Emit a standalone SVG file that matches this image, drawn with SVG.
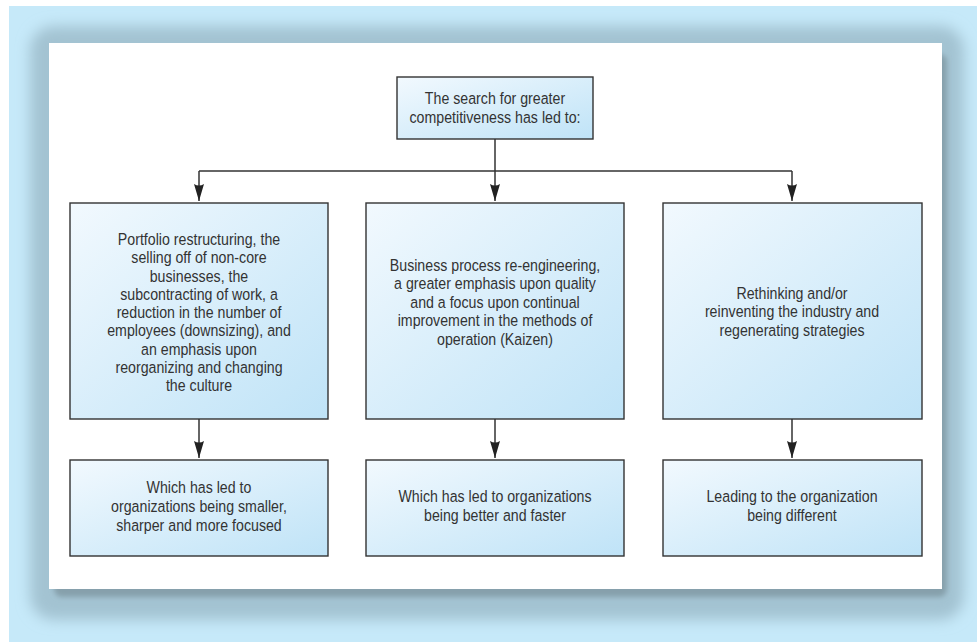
<svg xmlns="http://www.w3.org/2000/svg" width="977" height="642" viewBox="0 0 977 642">
<style>
.box{stroke:#333;stroke-width:1.4;fill:url(#bg)}
.t{font-family:"Liberation Sans",Arial,sans-serif;font-size:16.5px;fill:#333;text-anchor:middle}
.c{stroke:#333;stroke-width:1.5;fill:none}
</style>
<defs>
<linearGradient id="bg" x1="0" y1="0" x2="1" y2="1">
<stop offset="0" stop-color="#f2f9fe"/>
<stop offset="1" stop-color="#bfe3f7"/>
</linearGradient>
<filter id="b1" x="-10%" y="-10%" width="120%" height="120%"><feGaussianBlur stdDeviation="7"/></filter>
<filter id="b2" x="-10%" y="-10%" width="120%" height="120%"><feGaussianBlur stdDeviation="2.5"/></filter>
<marker id="ah" markerUnits="userSpaceOnUse" markerWidth="18" markerHeight="12" refX="17" refY="5" orient="auto" viewBox="0 0 18 10">
<path d="M0,0 Q3,5 0,10 L17,5 Z" fill="#222"/>
</marker>
</defs>
<rect x="9" y="6" width="968" height="636" fill="#c6e9f9"/>
<rect x="30" y="26" width="934" height="594" rx="24" fill="#a3c3d2" filter="url(#b1)"/>
<rect x="54" y="54" width="893" height="543" rx="8" fill="#86a0ac" filter="url(#b2)"/>
<rect x="49" y="43" width="893" height="546" fill="#ffffff"/>
<g id="connectors">
<path class="c" d="M495,139 V201" marker-end="url(#ah)"/>
<path class="c" d="M199,171 H792"/>
<path class="c" d="M199,171 V201" marker-end="url(#ah)"/>
<path class="c" d="M792,171 V201" marker-end="url(#ah)"/>
<path class="c" d="M199,419 V458" marker-end="url(#ah)"/>
<path class="c" d="M495,419 V458" marker-end="url(#ah)"/>
<path class="c" d="M792,419 V458" marker-end="url(#ah)"/>
</g>
<g id="top">
<rect class="box" x="397" y="77" width="196" height="62"/>
<text class="t" transform="translate(495,0) scale(0.86,1)"><tspan x="0" y="104">The search for greater</tspan><tspan x="0" y="123">competitiveness has led to:</tspan></text>
</g>
<g id="n1">
<rect class="box" x="70" y="203" width="258" height="216"/>
<text class="t" transform="translate(199,0) scale(0.86,1)"><tspan x="0" y="245">Portfolio restructuring, the</tspan><tspan x="0" y="263.3">selling off of non-core</tspan><tspan x="0" y="281.6">businesses, the</tspan><tspan x="0" y="299.9">subcontracting of work, a</tspan><tspan x="0" y="318.2">reduction in the number of</tspan><tspan x="0" y="336.5">employees (downsizing), and</tspan><tspan x="0" y="354.8">an emphasis upon</tspan><tspan x="0" y="373.1">reorganizing and changing</tspan><tspan x="0" y="391.4">the culture</tspan></text>
</g>
<g id="n2">
<rect class="box" x="366" y="203" width="258" height="216"/>
<text class="t" transform="translate(495,0) scale(0.86,1)"><tspan x="0" y="271">Business process re-engineering,</tspan><tspan x="0" y="289.5">a greater emphasis upon quality</tspan><tspan x="0" y="308">and a focus upon continual</tspan><tspan x="0" y="326.5">improvement in the methods of</tspan><tspan x="0" y="345">operation (Kaizen)</tspan></text>
</g>
<g id="n3">
<rect class="box" x="663" y="203" width="259" height="216"/>
<text class="t" transform="translate(792,0) scale(0.86,1)"><tspan x="0" y="299">Rethinking and/or</tspan><tspan x="0" y="317.5">reinventing the industry and</tspan><tspan x="0" y="336">regenerating strategies</tspan></text>
</g>
<g id="r1">
<rect class="box" x="70" y="460" width="258" height="96"/>
<text class="t" transform="translate(199,0) scale(0.86,1)"><tspan x="0" y="493">Which has led to</tspan><tspan x="0" y="512">organizations being smaller,</tspan><tspan x="0" y="531">sharper and more focused</tspan></text>
</g>
<g id="r2">
<rect class="box" x="366" y="460" width="258" height="96"/>
<text class="t" transform="translate(495,0) scale(0.86,1)"><tspan x="0" y="502">Which has led to organizations</tspan><tspan x="0" y="521.5">being better and faster</tspan></text>
</g>
<g id="r3">
<rect class="box" x="663" y="460" width="259" height="96"/>
<text class="t" transform="translate(792,0) scale(0.86,1)"><tspan x="0" y="502">Leading to the organization</tspan><tspan x="0" y="521.5">being different</tspan></text>
</g>
</svg>
